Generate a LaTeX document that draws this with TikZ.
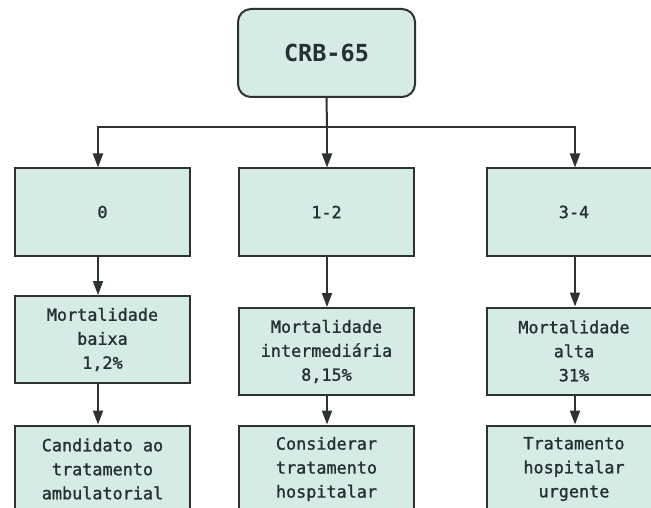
\documentclass[tikz,border=0pt]{standalone}
\usepackage{fontspec}
\setmonofont{DejaVu Sans Mono}
\newfontfamily\boxfont[FakeBold=1.3]{DejaVu Sans Mono}
\usetikzlibrary{arrows.meta}
\definecolor{boxfill}{RGB}{214,235,229}
\definecolor{boxline}{RGB}{45,50,50}
\definecolor{ink}{RGB}{35,50,48}
\begin{document}
\begin{tikzpicture}[x=1pt,y=-1pt,
  box/.style={draw=boxline, line width=2pt, fill=boxfill,
    minimum width=175pt, minimum height=87pt, inner sep=0pt,
    align=center, text=ink, font=\boxfont\fontsize{16.8}{24}\selectfont},
  rootbox/.style={box, rounded corners=13pt, minimum width=177pt, minimum height=88pt,
    font=\ttfamily\bfseries\fontsize{23.5}{28}\selectfont},
  link/.style={draw=boxline, line width=2pt},
  arr/.style={link, -{Triangle[length=14pt,width=10pt]}}]
\useasboundingbox (0,0) rectangle (651,508);
\clip (0,0) rectangle (651,508);

% root score
\node[rootbox] (crb) at (326.5,53) {CRB-65};

% score groups
\node[box] (r1a) at (102.5,212) {0};
\node[box] (r1b) at (326.5,212) {1-2};
\node[box] (r1c) at (574,212) {3-4};

% mortality
\node[box] (r2a) at (102.5,339.5) {Mortalidade\\baixa\\1,2\%};
\node[box] (r2b) at (326.5,351.5) {Mortalidade\\intermediária\\8,15\%};
\node[box] (r2c) at (574,351) {Mortalidade\\alta\\31\%};

% recommended care
\node[box] (r3a) at (102.5,469) {Candidato ao\\tratamento\\ambulatorial};
\node[box] (r3b) at (326.5,469) {Considerar\\tratamento\\hospitalar};
\node[box] (r3c) at (574,469) {Tratamento\\hospitalar\\urgente};

% column lines for the connectors
\coordinate (colA) at (98,0);
\coordinate (colB) at (327,0);
\coordinate (colC) at (575,0);
\coordinate (bus) at (327,127);

\draw[link] (crb.south) -- (bus);
\draw[arr] (bus) -| (colA |- r1a.north);
\draw[arr] (bus) -- (colB |- r1b.north);
\draw[arr] (bus) -| (colC |- r1c.north);

\draw[arr] (colA |- r1a.south) -- (colA |- r2a.north);
\draw[arr] (colB |- r1b.south) -- (colB |- r2b.north);
\draw[arr] (colC |- r1c.south) -- (colC |- r2c.north);

\draw[arr] (colA |- r2a.south) -- (colA |- r3a.north);
\draw[arr] (colB |- r2b.south) -- (colB |- r3b.north);
\draw[arr] (colC |- r2c.south) -- (colC |- r3c.north);
\end{tikzpicture}
\end{document}
